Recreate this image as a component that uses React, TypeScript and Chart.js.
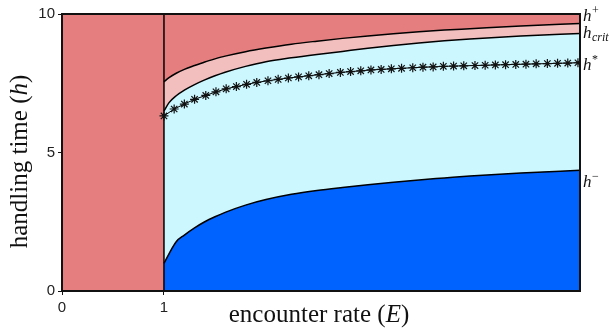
import React, { useEffect, useRef } from "react";
import { Chart, registerables } from "chart.js";

Chart.register(...registerables);

// Sample points of the upper boundary curves (encounter rate E)
const curveE = [1.0, 1.05, 1.12, 1.2, 1.3, 1.4, 1.5, 1.6, 1.8, 2.0, 2.25, 2.5, 2.75, 3.0, 3.25, 3.5, 3.75, 4.0, 4.5, 5.08];
const hPlus = [7.55, 7.7, 7.86, 8.0, 8.14, 8.27, 8.38, 8.48, 8.64, 8.77, 8.91, 9.02, 9.12, 9.21, 9.29, 9.36, 9.42, 9.47, 9.57, 9.66];
const hCrit = [6.5, 6.8, 7.05, 7.25, 7.45, 7.62, 7.77, 7.9, 8.11, 8.28, 8.42, 8.54, 8.65, 8.76, 8.86, 8.95, 9.03, 9.1, 9.21, 9.3];

// Sample points of the lower boundary curve
const minusE = [1.0, 1.12, 1.2, 1.3, 1.4, 1.5, 1.6, 1.8, 2.0, 2.25, 2.5, 2.75, 3.0, 3.25, 3.5, 3.75, 4.0, 4.5, 5.08];
const hMinus = [1.0, 1.78, 2.02, 2.28, 2.5, 2.68, 2.84, 3.1, 3.3, 3.49, 3.63, 3.74, 3.84, 3.93, 4.01, 4.08, 4.15, 4.26, 4.36];

// h* sample points (marked with stars)
const starE = [1.0, 1.1, 1.2, 1.3, 1.41, 1.51, 1.61, 1.71, 1.81, 1.91, 2.02, 2.12, 2.22, 2.32, 2.42, 2.52, 2.62, 2.73, 2.83, 2.93, 3.03, 3.13, 3.23, 3.33, 3.44, 3.54, 3.64, 3.74, 3.84, 3.94, 4.05, 4.15, 4.25, 4.35, 4.45, 4.55, 4.65, 4.76, 4.86, 4.96, 5.06];
const hStar = [6.32, 6.57, 6.75, 6.92, 7.06, 7.19, 7.3, 7.38, 7.46, 7.53, 7.59, 7.64, 7.69, 7.73, 7.77, 7.81, 7.85, 7.89, 7.92, 7.95, 7.98, 8.0, 8.02, 8.04, 8.06, 8.08, 8.09, 8.11, 8.12, 8.13, 8.14, 8.15, 8.16, 8.17, 8.18, 8.19, 8.2, 8.21, 8.22, 8.23, 8.24];

const xTicks = [0, 1];
const yTicks = [0, 5, 10];
const threshold = 1;
const xMax = 5.08;
const yMax = 10;

// right-hand curve labels: [superscript/subscript text, anchor value, isSub]
const curveLabels: [string, number, boolean][] = [
  ["+", 9.75, false],
  ["crit", 9.13, true],
  ["*", 7.98, false],
  ["\u2212", 3.75, false],
];

const RED = "#E57E7E";
const PINK = "#F2BEBE";
const CYAN = "#CCF7FF";
const BLUE = "#0062FF";

const zip = (xs: number[], ys: number[]) => xs.map((x, i) => ({ x, y: ys[i] }));

export default function App() {
  const ref = useRef<HTMLCanvasElement>(null);
  useEffect(() => {
    document.body.style.margin = "0";
    const canvas = ref.current!;
    const serif = "'Liberation Serif', serif";
    const plugin = {
      id: "decor",
      beforeDatasetsDraw(chart: any) {
        const { ctx, chartArea: a } = chart;
        ctx.save();
        ctx.fillStyle = RED;
        ctx.fillRect(a.left, a.top, a.right - a.left, a.bottom - a.top);
        ctx.restore();
      },
      afterDraw(chart: any) {
        const { ctx, chartArea: a, scales } = chart;
        ctx.save();
        ctx.strokeStyle = "#111";
        ctx.lineWidth = 2;
        ctx.strokeRect(a.left, a.top, a.right - a.left, a.bottom - a.top);
        ctx.fillStyle = "#111";
        ctx.textBaseline = "alphabetic";
        const drawParts = (parts: [string, string][], cx: number, cy: number) => {
          let total = 0;
          parts.forEach(([t, f]) => { ctx.font = f; total += ctx.measureText(t).width; });
          let x = cx - total / 2;
          parts.forEach(([t, f]) => { ctx.font = f; ctx.fillText(t, x, cy); x += ctx.measureText(t).width; });
        };
        const up = `25px ${serif}`;
        const it = `italic 25px ${serif}`;
        drawParts([["encounter rate (", up], ["E", it], [")", up]], 319, 322);
        ctx.save();
        ctx.translate(27, (a.top + a.bottom) / 2 + 9);
        ctx.rotate(-Math.PI / 2);
        drawParts([["handling time (", up], ["h", it], [")", up]], 0, 0);
        ctx.restore();
        const ys = scales.y;
        curveLabels.forEach(([t, v, sub]) => {
          const py = ys.getPixelForValue(v);
          ctx.font = `italic 17px ${serif}`;
          ctx.fillText("h", a.right + 3, py);
          const w = ctx.measureText("h").width;
          ctx.font = `${sub ? "italic " : ""}12px ${serif}`;
          ctx.fillText(t, a.right + 3 + w + 0.5, sub ? py + 3 : py - 7);
        });
        ctx.restore();
      },
    };
    const tickFont = { family: "'Liberation Sans', Arial, sans-serif", size: 15 };
    const chart = new Chart(canvas, {
      type: "line",
      data: {
        datasets: [
          {
            data: zip(starE, hStar),
            borderColor: "#000",
            borderWidth: 1,
            pointStyle: "star",
            pointRadius: 4.5,
            pointBorderColor: "#111",
            pointBorderWidth: 1.2,
            fill: false,
            tension: 0,
          },
          {
            data: [{ x: threshold, y: 0 }, { x: threshold, y: yMax }],
            borderColor: "#000",
            borderWidth: 1.5,
            pointRadius: 0,
            fill: false,
          },
          {
            data: zip(minusE, hMinus),
            borderColor: "#000",
            borderWidth: 1.5,
            backgroundColor: BLUE,
            pointRadius: 0,
            fill: "origin",
            cubicInterpolationMode: "monotone",
          },
          {
            data: zip(curveE, hCrit),
            borderColor: "#000",
            borderWidth: 1.5,
            backgroundColor: CYAN,
            pointRadius: 0,
            fill: "origin",
            cubicInterpolationMode: "monotone",
          },
          {
            data: zip(curveE, hPlus),
            borderColor: "#000",
            borderWidth: 1.5,
            backgroundColor: PINK,
            pointRadius: 0,
            fill: "origin",
            cubicInterpolationMode: "monotone",
          },
        ],
      },
      options: {
        animation: false,
        responsive: false,
        devicePixelRatio: 1,
        layout: { padding: { top: 14, right: 31, left: 0, bottom: 0 } },
        plugins: { legend: { display: false }, tooltip: { enabled: false } },
        scales: {
          x: {
            type: "linear",
            min: 0,
            max: xMax,
            afterBuildTicks: (s: any) => { s.ticks = xTicks.map((v) => ({ value: v })); },
            afterFit: (s: any) => { s.height = 40; },
            ticks: { font: tickFont, color: "#222", padding: 4, maxRotation: 0, callback: (v: any) => String(v) },
            grid: { display: true, drawOnChartArea: false, drawTicks: true, tickLength: 4, color: "#111" },
            border: { display: false },
          },
          y: {
            type: "linear",
            min: 0,
            max: yMax,
            afterBuildTicks: (s: any) => { s.ticks = yTicks.map((v) => ({ value: v })); },
            afterFit: (s: any) => { s.width = 62; },
            ticks: { font: tickFont, color: "#222", padding: 3, callback: (v: any) => String(v) },
            grid: { display: true, drawOnChartArea: false, drawTicks: true, tickLength: 4, color: "#111" },
            border: { display: false },
          },
        },
      },
      plugins: [plugin],
    } as any);
    return () => chart.destroy();
  }, []);
  return (
    <div style={{ position: "absolute", left: 0, top: 0, width: 611, height: 331 }}>
      <canvas ref={ref} width={611} height={331} />
    </div>
  );
}
